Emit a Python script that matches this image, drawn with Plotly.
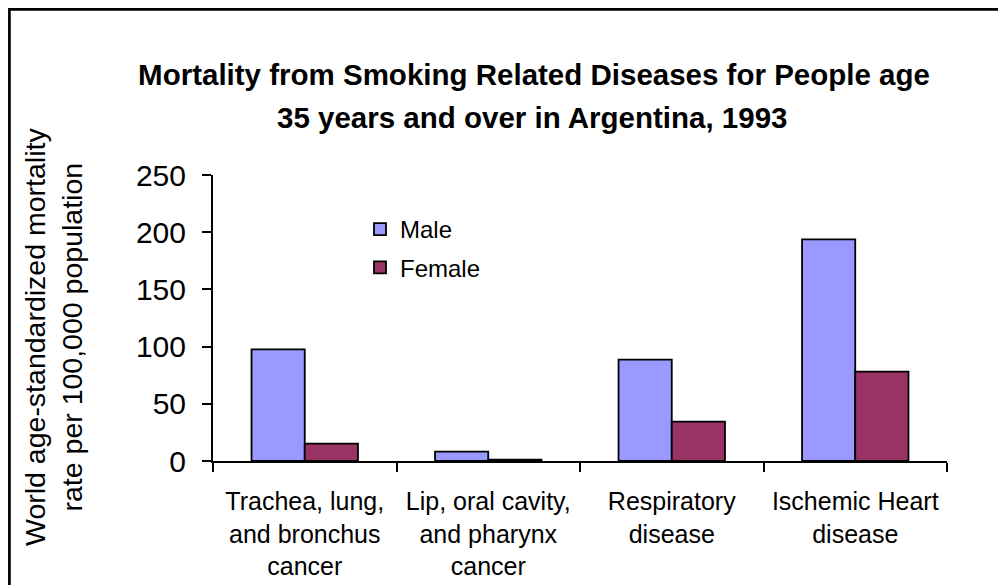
import plotly.graph_objects as go

CATEGORIES = [
    "Trachea, lung,<br>and bronchus<br>cancer",
    "Lip, oral cavity,<br>and pharynx<br>cancer",
    "Respiratory<br>disease",
    "Ischemic Heart<br>disease",
]
MALE = [97.5, 8.2, 88.7, 193.7]
FEMALE = [15.2, 1.2, 34.5, 78.2]
Y_TICKS = [0, 50, 100, 150, 200, 250]

TITLE_1 = "Mortality from Smoking Related Diseases for People age"
TITLE_2 = "35 years and over in Argentina, 1993"
Y_TITLE = "World age-standardized mortality<br>rate per 100,000 population"

MALE_COLOR = "#9999FF"
FEMALE_COLOR = "#993366"
FONT = "Arial, Liberation Sans, sans-serif"

# figure pixel geometry (the page adds an 8px body margin on screen)
W, H = 1006, 585
L, R, T, B = 205, 67, 167, 132
PW, PH = W - L - R, H - T - B


def px_x(p):
    return (p - L) / PW


def px_y(p):
    return (H - B - p) / PH


fig = go.Figure()
fig.add_trace(go.Bar(
    x=CATEGORIES, y=MALE, name="Male",
    marker=dict(color=MALE_COLOR, line=dict(color="black", width=1.8)),
    legendgroup="m",
))
fig.add_trace(go.Bar(
    x=CATEGORIES, y=FEMALE, name="Female",
    marker=dict(color=FEMALE_COLOR, line=dict(color="black", width=1.8)),
    legendgroup="f",
))

# chart frame around the whole figure
fig.add_shape(
    type="rect", xref="paper", yref="paper",
    x0=px_x(1.4), y0=px_y(H - 1.4), x1=px_x(W - 1.4), y1=px_y(1.4),
    line=dict(color="black", width=2.7), fillcolor="rgba(0,0,0,0)",
)

fig.add_annotation(
    text=f"<b>{TITLE_2}</b>",
    xref="paper", yref="paper", x=px_x(524), y=px_y(110),
    showarrow=False, xanchor="center", yanchor="middle",
    font=dict(family=FONT, size=29.5, color="black"),
)
fig.add_annotation(
    text=Y_TITLE,
    xref="paper", yref="paper", x=px_x(45), y=px_y(329),
    textangle=-90, showarrow=False, xanchor="center", yanchor="middle",
    font=dict(family=FONT, size=28.5, color="black"),
)

fig.update_layout(
    width=W, height=H,
    margin=dict(l=L, r=R, t=T, b=B),
    paper_bgcolor="white", plot_bgcolor="white",
    font=dict(family=FONT, color="black"),
    title=dict(
        text=f"<b>{TITLE_1}</b>",
        x=526 / W, xanchor="center", y=1 - 67 / H, yanchor="middle",
        font=dict(family=FONT, size=29.5, color="black"),
    ),
    barmode="group", bargap=0.42, bargroupgap=0,
    showlegend=True,
    legend=dict(
        x=px_x(352), y=px_y(199), xanchor="left", yanchor="top",
        font=dict(family=FONT, size=24, color="black"),
        bgcolor="rgba(0,0,0,0)", tracegroupgap=4, traceorder="grouped",
    ),
)
fig.update_xaxes(
    showline=True, linecolor="black", linewidth=2,
    ticks="outside", ticklen=9, tickwidth=2, tickcolor="black",
    tickson="boundaries", showgrid=False, ticklabelstandoff=17,
    tickfont=dict(family=FONT, size=25, color="black"),
)
fig.update_yaxes(
    range=[0, 250], tickvals=Y_TICKS,
    showline=True, linecolor="black", linewidth=2,
    ticks="outside", ticklen=9, tickwidth=2, tickcolor="black",
    showgrid=False, zeroline=False, ticklabelstandoff=10,
    tickfont=dict(family=FONT, size=30, color="black"),
)

fig.write_html("out.html")
